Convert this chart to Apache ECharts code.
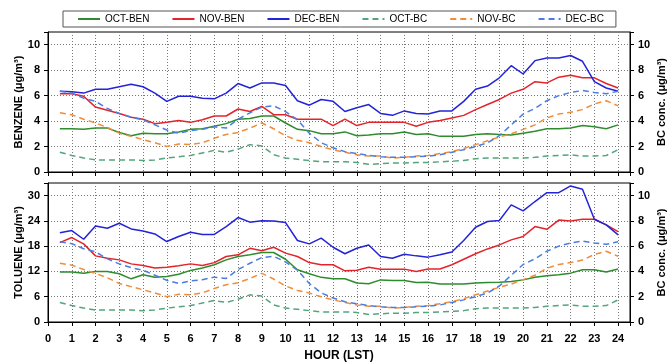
<!DOCTYPE html>
<html>
<head>
<meta charset="utf-8">
<script src="https://cdn.jsdelivr.net/npm/echarts@6/dist/echarts.min.js"></script>
<style>html,body{margin:0;padding:0;background:#fff}#c{width:668px;height:362px}</style>
</head>
<body>
<div id="c"></div>
<script>
const hours = [0.5,1,1.5,2,2.5,3,3.5,4,4.5,5,5.5,6,6.5,7,7.5,8,8.5,9,9.5,10,10.5,11,11.5,12,12.5,13,13.5,14,14.5,15,15.5,16,16.5,17,17.5,18,18.5,19,19.5,20,20.5,21,21.5,22,22.5,23,23.5,24];
const xTicks = [0,1,2,3,4,5,6,7,8,9,10,11,12,13,14,15,16,17,18,19,20,21,22,23,24];

const octBen = [3.4,3.4,3.35,3.45,3.45,3.1,2.85,3.05,3.0,3.0,3.15,3.35,3.4,3.6,3.8,4.15,4.2,4.4,4.4,3.85,3.35,3.25,3.0,3.0,3.15,2.85,
                2.9,3.0,3.0,3.15,2.95,3.0,2.8,2.8,2.8,2.95,3.0,2.95,2.9,3.05,3.2,3.4,3.4,3.45,3.65,3.55,3.4,3.7];
const novBen = [6.15,6.15,5.95,5.1,4.85,4.6,4.3,4.15,3.8,3.9,4.05,3.9,4.1,4.4,4.4,4.95,4.75,5.15,4.5,4.5,4.15,4.15,4.15,3.65,4.15,3.65,
                3.9,3.9,3.9,3.9,3.6,3.9,4.05,4.25,4.45,4.9,5.3,5.7,6.2,6.5,7.1,7.0,7.45,7.6,7.4,7.4,6.95,6.6];
const decBen = [6.34,6.3,6.2,6.5,6.5,6.7,6.9,6.7,6.2,5.55,5.95,5.95,5.8,5.75,6.2,6.95,6.6,7.0,7.0,6.8,5.6,5.25,5.7,5.55,4.75,5.05,
                5.3,4.6,4.45,4.8,4.6,4.55,4.8,4.8,5.55,6.5,6.75,7.4,8.35,7.7,8.75,8.95,8.95,9.15,8.7,7.1,6.6,6.35];

const octTol = [11.85,11.85,11.6,12.0,12.0,11.45,10.25,11.2,10.6,10.8,11.35,12.25,12.8,13.6,14.75,15.55,15.95,16.5,16.5,14.9,12.4,11.45,10.6,10.25,10.25,9.25,
                9.1,10.0,9.85,9.85,9.4,9.45,9.0,9.0,9.0,9.25,9.4,9.45,9.6,10.0,10.6,11.0,11.2,11.6,12.4,12.4,11.85,12.6];
const novTol = [18.85,20.05,18.55,15.7,15.15,14.75,13.8,13.4,12.8,13.0,13.35,13.8,13.4,14.1,15.55,15.95,17.5,16.9,17.75,16.35,15.55,14.1,13.6,13.6,12.15,12.3,
                13.0,12.55,12.55,12.55,12.0,12.6,12.6,13.6,14.9,16.2,17.35,18.3,19.5,20.3,22.65,22.0,24.2,24.0,24.4,24.4,23.05,21.45];
const decTol = [21.2,21.7,19.65,22.8,22.25,23.45,22.1,21.6,20.9,19.1,20.3,21.3,20.8,20.8,22.65,24.8,23.7,24.05,24.0,23.6,19.35,18.55,19.9,17.75,16.2,17.5,
                18.3,15.55,15.15,16.1,15.7,15.4,15.95,16.6,19.35,22.5,23.85,24.1,27.8,26.4,28.6,30.7,30.7,32.3,31.5,24.4,23.05,20.7];

const octBC = [1.55,1.3,1.1,0.95,0.95,0.95,0.95,0.9,0.95,1.1,1.2,1.3,1.5,1.7,1.55,1.8,2.15,2.05,1.35,1.1,1.0,0.9,0.8,0.8,0.8,0.75,
               0.6,0.65,0.7,0.7,0.75,0.75,0.8,0.85,0.9,1.05,1.1,1.1,1.1,1.1,1.15,1.25,1.3,1.35,1.25,1.25,1.3,1.75];
const novBC = [4.65,4.5,4.15,3.85,3.5,3.05,2.8,2.55,2.3,2.0,2.2,2.15,2.3,2.65,2.95,3.1,3.45,3.85,3.4,2.85,2.5,2.3,2.0,1.75,1.55,1.35,
               1.25,1.25,1.1,1.15,1.25,1.3,1.45,1.6,1.85,2.15,2.45,2.75,3.0,3.35,3.7,4.25,4.55,4.7,4.9,5.35,5.6,5.2];
const decBC = [6.35,6.2,5.8,5.55,5.0,4.6,4.3,4.1,3.7,3.3,3.05,3.25,3.35,3.55,3.45,4.15,4.65,5.1,5.2,4.75,4.1,3.05,2.3,1.9,1.6,1.45,
               1.3,1.2,1.15,1.15,1.2,1.25,1.35,1.55,1.75,2.0,2.3,2.85,3.7,4.55,5.0,5.6,6.0,6.25,6.4,6.25,6.15,6.35];

const benTicks = [0,2,4,6,8,10];
const tolTicks = [0,6,12,18,24,30];
const bcTicks = [0,2,4,6,8,10];

const names = ['OCT-BEN','NOV-BEN','DEC-BEN','OCT-BC','NOV-BC','DEC-BC'];
const colors = {'OCT-BEN':'#2e8b2e','NOV-BEN':'#e3242b','DEC-BEN':'#2323d8','OCT-BC':'#52a57c','NOV-BC':'#f08c3a','DEC-BC':'#4a7de0'};

const pair = arr => hours.map((h,i)=>[h,arr[i]]);
const font = 'Arial, "Liberation Sans", sans-serif';

function mkX(gi, showLabels){
  return {
    type:'value', gridIndex:gi, min:0, max:24.5, interval:1,
    axisLine:{show:true, onZero:false, lineStyle:{color:'#000',width:1}},
    axisTick:{show:true, inside:false, length:4, lineStyle:{color:'#000'}},
    axisLabel:{show:showLabels, margin:11, fontFamily:font, fontWeight:'bold', fontSize:11, color:'#000',
      formatter:v => xTicks.indexOf(v) >= 0 ? String(v) : ''},
    splitLine:{show:true, showMinLine:false, showMaxLine:false, lineStyle:{color:'#777', type:[1,2], width:1}},
    name: showLabels ? 'HOUR (LST)' : '', nameLocation:'middle', nameGap:28, nameMoveOverlap:false,
    nameTextStyle:{fontFamily:font, fontWeight:'bold', fontSize:12, color:'#000'}
  };
}
function mkY(gi, pos, max, interval, ticks, name, split){
  return {
    type:'value', gridIndex:gi, position:pos, min:0, max:max, interval:interval,
    axisLine:{show:true, onZero:false, lineStyle:{color:'#000',width:1}},
    axisTick:{show:true, inside:false, length:4, lineStyle:{color:'#000'}},
    axisLabel:{margin:8, fontFamily:font, fontWeight:'bold', fontSize:11, color:'#000',
      formatter:v => ticks.indexOf(v) >= 0 ? String(v) : ''},
    splitLine:{show:split, showMinLine:false, showMaxLine:false, lineStyle:{color:'#777', type:[1,2], width:1}},
    name:name, nameLocation:'middle', nameRotate:90, nameGap: pos==='left' ? 24 : 26, nameMoveOverlap:false,
    nameTextStyle:{fontFamily:font, fontWeight:'bold', fontSize:11, color:'#000'}
  };
}
function line(name, arr, xi, yi, dashed){
  return {
    name:name, type:'line', xAxisIndex:xi, yAxisIndex:yi, data:pair(arr),
    symbol:'none', showSymbol:false, smooth:false, animation:false,
    color:colors[name],
    lineStyle:{color:colors[name], width:1.5, type: dashed ? [6,4] : 'solid'}
  };
}

const chart = echarts.init(document.getElementById('c'), null, {renderer:'canvas'});
chart.setOption({
  animation:false,
  backgroundColor:'#fff',
  legend:{
    data:names, left:63, top:11, padding:[3,12,3,14], itemWidth:22, itemHeight:10, itemGap:22,
    borderColor:'#555', borderWidth:1,
    itemStyle:{opacity:0},
    textStyle:{fontFamily:font, fontSize:10, color:'#000'}
  },
  grid:[
    {left:48, right:38, top:32, height:140, outerBoundsMode:'none', containLabel:false, show:true, borderColor:'#000', borderWidth:1, backgroundColor:'transparent'},
    {left:48, right:38, top:183, height:139, outerBoundsMode:'none', containLabel:false, show:true, borderColor:'#000', borderWidth:1, backgroundColor:'transparent'}
  ],
  xAxis:[mkX(0,false), mkX(1,true)],
  yAxis:[
    mkY(0,'left',11,2,benTicks,'BENZENE (\u03bcg/m\u00b3)',true),
    mkY(0,'right',11,2,bcTicks,'BC conc. (\u03bcg/m\u00b3)',false),
    mkY(1,'left',33,6,tolTicks,'TOLUENE (\u03bcg/m\u00b3)',true),
    mkY(1,'right',11,2,bcTicks,'BC conc. (\u03bcg/m\u00b3)',false)
  ],
  series:[
    line('OCT-BEN',octBen,0,0,false),
    line('NOV-BEN',novBen,0,0,false),
    line('DEC-BEN',decBen,0,0,false),
    line('OCT-BC',octBC,0,1,true),
    line('NOV-BC',novBC,0,1,true),
    line('DEC-BC',decBC,0,1,true),
    line('OCT-BEN',octTol,1,2,false),
    line('NOV-BEN',novTol,1,2,false),
    line('DEC-BEN',decTol,1,2,false),
    line('OCT-BC',octBC,1,3,true),
    line('NOV-BC',novBC,1,3,true),
    line('DEC-BC',decBC,1,3,true)
  ]
});
</script>
</body>
</html>
